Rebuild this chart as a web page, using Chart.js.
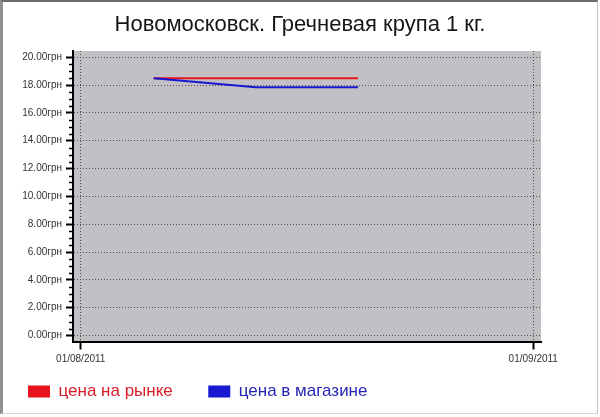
<!DOCTYPE html>
<html>
<head>
<meta charset="utf-8">
<script src="https://cdn.jsdelivr.net/npm/chart.js@4"></script>
<style>
  html, body { margin: 0; padding: 0; background: #fff; }
  #wrap { position: relative; width: 600px; height: 417px; }
  #frame {
    position: absolute; left: 0; top: 0; width: 598px; height: 414px;
    box-sizing: border-box; pointer-events: none;
    border-left: 3px solid #8f8f8f; border-top: 2px solid #6e6e6e;
    border-right: 1px solid #c4c4c4; border-bottom: 1px solid #d6d6d6;
  }
</style>
</head>
<body>
<div id="wrap">
  <canvas id="chart" width="600" height="417"></canvas>
  <div id="frame"></div>
</div>
<script>
// chart data
const chartTitle = "Новомосковск. Гречневая крупа 1 кг.";
const seriesNames = ["цена на рынке", "цена в магазине"];
const seriesColors = ["#e8141e", "#1818d0"];
const legendTextColors = ["#d81c28", "#2626b4"];
const dates = ["06/08/2011", "13/08/2011", "20/08/2011"];
const marketPrices = [18.5, 18.5, 18.5];
const storePrices = [18.5, 17.85, 17.85];
const xTickLabels = ["01/08/2011", "01/09/2011"];
const yTickValues = [0, 2, 4, 6, 8, 10, 12, 14, 16, 18, 20];

// turn "dd/mm/yyyy" into days since the first x tick
function dayOf(s) {
  const [d, m, y] = s.split("/").map(Number);
  return Date.UTC(y, m - 1, d) / 86400000;
}
const day0 = dayOf(xTickLabels[0]);
const xTickDays = xTickLabels.map((s) => dayOf(s) - day0);

function points(values) {
  return dates.map((d, i) => ({ x: dayOf(d) - day0, y: values[i] }));
}

// grey plot background
const plotBackground = {
  id: "plotBackground",
  beforeDraw(chart) {
    const { ctx, chartArea: a } = chart;
    ctx.save();
    ctx.fillStyle = "#c2c0c4";
    ctx.fillRect(a.left, a.top, a.right - a.left, a.bottom - a.top);
    ctx.restore();
  },
};

// small ticks every 0.5 on the y axis
const minorTicks = {
  id: "minorTicks",
  afterDraw(chart) {
    const { ctx, chartArea: a } = chart;
    const y = chart.scales.y;
    ctx.save();
    ctx.strokeStyle = "#000";
    ctx.lineWidth = 1.5;
    for (let v = yTickValues[0]; v <= yTickValues[yTickValues.length - 1]; v += 0.5) {
      if (yTickValues.includes(v)) continue;
      const py = Math.round(y.getPixelForValue(v)) + 0.5;
      ctx.beginPath();
      ctx.moveTo(a.left - 4, py);
      ctx.lineTo(a.left, py);
      ctx.stroke();
    }
    ctx.restore();
  },
};

const labelFont = { family: "'Liberation Sans', Arial, sans-serif", size: 10 };
const legendGap = 35.5; // legend padding, also the gap between the two items
const sidePad = 28 - legendGap;

new Chart(document.getElementById("chart").getContext("2d"), {
  type: "line",
  data: {
    datasets: [
      {
        label: seriesNames[0],
        data: points(marketPrices),
        borderColor: seriesColors[0],
        borderWidth: 2,
        pointRadius: 0,
        order: 1,
      },
      {
        label: seriesNames[1],
        data: points(storePrices),
        borderColor: seriesColors[1],
        borderWidth: 2,
        pointRadius: 0,
        order: 0,
      },
    ],
  },
  options: {
    responsive: false,
    animation: false,
    layout: { padding: { left: sidePad, right: sidePad, top: 0, bottom: 7 } },
    plugins: {
      tooltip: { enabled: false },
      title: {
        display: true,
        text: chartTitle,
        color: "#161616",
        font: { family: "'Liberation Sans', Arial, sans-serif", size: 22, weight: "normal" },
        padding: { top: 12, bottom: 12.6 },
      },
      legend: {
        position: "bottom",
        align: "start",
        labels: {
          boxWidth: 22,
          boxHeight: 12,
          padding: legendGap,
          font: { family: "'Liberation Sans', Arial, sans-serif", size: 17 },
          generateLabels: () =>
            seriesNames.map((name, i) => ({
              text: name,
              fillStyle: seriesColors[i],
              strokeStyle: seriesColors[i],
              lineWidth: 0,
              fontColor: legendTextColors[i],
              datasetIndex: i,
            })),
        },
      },
    },
    scales: {
      x: {
        type: "linear",
        min: -0.53,
        max: xTickDays[xTickDays.length - 1] + 0.53,
        afterBuildTicks: (s) => { s.ticks = xTickDays.map((v) => ({ value: v })); },
        afterFit: (s) => { s.height = 6; },
        ticks: {
          // mirrored so the labels are not clipped to the thin axis box
          mirror: true,
          padding: -24,
          color: "#333",
          font: labelFont,
          maxRotation: 0,
          autoSkip: false,
          callback: (v) => xTickLabels[xTickDays.indexOf(v)],
        },
        grid: {
          color: "#505050",
          lineWidth: 1,
          tickLength: 8,
          tickColor: "#000",
          tickWidth: 2,
        },
        border: { display: true, color: "#000", width: 2, dash: [1, 2] },
      },
      y: {
        min: -0.43,
        max: 20.45,
        afterBuildTicks: (s) => { s.ticks = yTickValues.map((v) => ({ value: v })); },
        afterFit: (s) => { s.width = 73 - sidePad; },
        ticks: {
          padding: 4,
          color: "#333",
          font: labelFont,
          callback: (v) => v.toFixed(2) + "грн",
        },
        grid: {
          color: "#505050",
          lineWidth: 1,
          tickLength: 7,
          tickColor: "#000",
          tickWidth: 2,
        },
        border: { display: true, color: "#000", width: 2, dash: [1, 2] },
      },
      // empty right-hand axis, only keeps the white margin on the right
      r: {
        position: "right",
        display: true,
        afterFit: (s) => { s.width = 600 - sidePad - 541; },
        ticks: { display: false },
        grid: { display: false },
        border: { display: false },
      },
    },
  },
  plugins: [plotBackground, minorTicks],
});
</script>
</body>
</html>
